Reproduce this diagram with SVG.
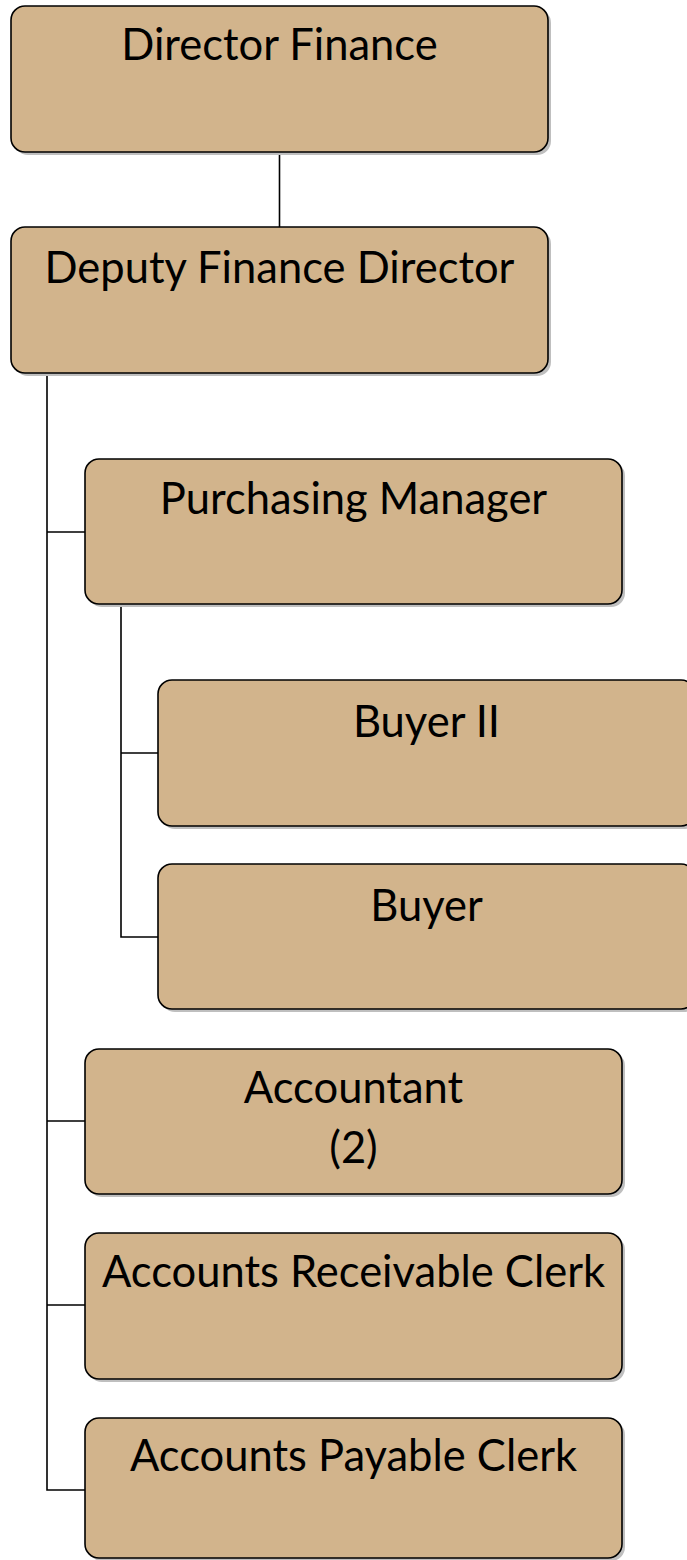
<svg xmlns="http://www.w3.org/2000/svg" width="687" height="1560" viewBox="0 0 687 1560">
<style>
.box{fill:#D2B48C;stroke:#000;stroke-width:1.6}
.sh{fill:#BFBFBF}
.t{font-family:Lato,"Open Sans","Liberation Sans",sans-serif;font-size:43.5px;fill:#000;text-anchor:middle}
.c{fill:none;stroke:#000;stroke-width:1.6}
</style>
<rect width="687" height="1560" fill="#fff"/>
<g id="connectors">
<path class="c" d="M279.5,152 V227"/>
<path class="c" d="M47,373 V1490 H85 M47,532 H85 M47,1121 H85 M47,1305 H85"/>
<path class="c" d="M121,604 V937 H158 M121,753 H158"/>
</g>
<g id="director-finance">
<rect class="sh" x="14" y="9" width="537" height="146" rx="14"/>
<rect class="box" x="11" y="6" width="537" height="146" rx="14"/>
<text class="t" x="279.5" y="60">Director Finance</text>
</g>
<g id="deputy-finance-director">
<rect class="sh" x="14" y="230" width="537" height="146" rx="14"/>
<rect class="box" x="11" y="227" width="537" height="146" rx="14"/>
<text class="t" x="279.5" y="283">Deputy Finance Director</text>
</g>
<g id="purchasing-manager">
<rect class="sh" x="88" y="462" width="537" height="145" rx="14"/>
<rect class="box" x="85" y="459" width="537" height="145" rx="14"/>
<text class="t" x="353.5" y="514">Purchasing Manager</text>
</g>
<g id="buyer-ii">
<rect class="sh" x="161" y="683" width="537" height="146" rx="14"/>
<rect class="box" x="158" y="680" width="537" height="146" rx="14"/>
<text class="t" x="426.5" y="737">Buyer II</text>
</g>
<g id="buyer">
<rect class="sh" x="161" y="867" width="537" height="145" rx="14"/>
<rect class="box" x="158" y="864" width="537" height="145" rx="14"/>
<text class="t" x="426.5" y="921">Buyer</text>
</g>
<g id="accountant">
<rect class="sh" x="88" y="1052" width="537" height="145" rx="14"/>
<rect class="box" x="85" y="1049" width="537" height="145" rx="14"/>
<text class="t" x="353.5" y="1103">Accountant</text>
<text class="t" x="353.5" y="1163">(2)</text>
</g>
<g id="accounts-receivable-clerk">
<rect class="sh" x="88" y="1236" width="537" height="146" rx="14"/>
<rect class="box" x="85" y="1233" width="537" height="146" rx="14"/>
<text class="t" x="353.5" y="1287">Accounts Receivable Clerk</text>
</g>
<g id="accounts-payable-clerk">
<rect class="sh" x="88" y="1421" width="537" height="140" rx="14"/>
<rect class="box" x="85" y="1418" width="537" height="140" rx="14"/>
<text class="t" x="353.5" y="1471">Accounts Payable Clerk</text>
</g>
</svg>
